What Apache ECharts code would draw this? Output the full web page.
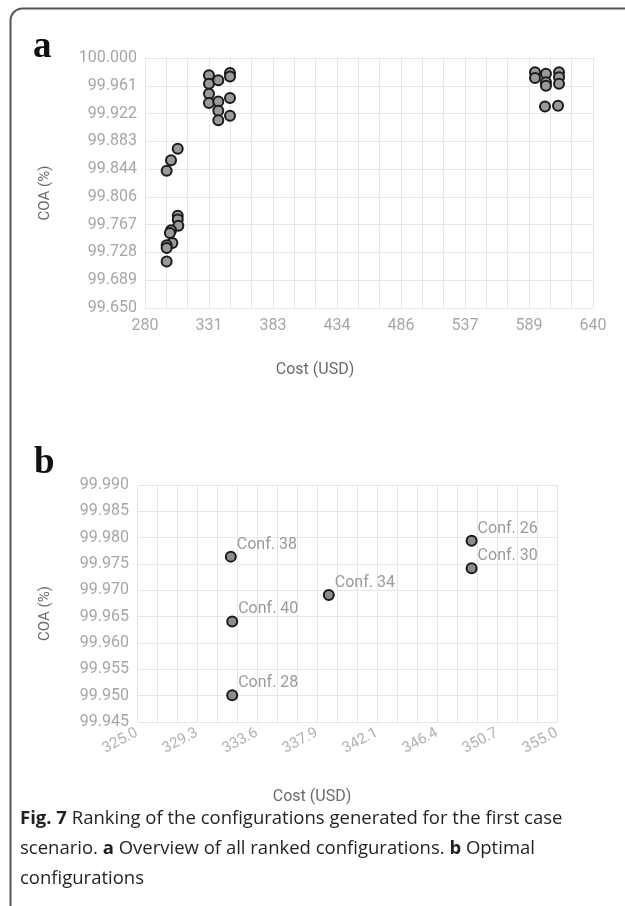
<!DOCTYPE html>
<html>
<head>
<meta charset="utf-8">
<script src="https://cdn.jsdelivr.net/npm/echarts@6/dist/echarts.min.js"></script>
<style>
html,body{margin:0;padding:0;background:#fff;}
#main{width:625px;height:906px;}
</style>
</head>
<body>
<div id="main"></div>
<script>
// panel a : all ranked configurations
var allCost = [306.3, 300.9, 297.4, 306.3, 306.3, 306.8, 300.9, 300.0, 302.0, 297.4, 297.4, 297.4,
  331.4, 331.4, 331.4, 331.4, 338.9, 338.9, 338.9, 338.9, 348.3, 348.3, 348.3, 348.3,
  593.4, 593.4, 602.2, 602.2, 602.2, 612.7, 612.7, 612.7, 601.4, 611.9];
var allCoa = [99.873, 99.857, 99.842, 99.779, 99.774, 99.765, 99.759, 99.755, 99.741, 99.738, 99.734, 99.715,
  99.976, 99.964, 99.950, 99.937, 99.969, 99.939, 99.926, 99.913, 99.979, 99.974, 99.944, 99.919,
  99.980, 99.972, 99.978, 99.966, 99.961, 99.980, 99.973, 99.964, 99.932, 99.933];

// panel b : optimal configurations
var optName = ['Conf. 38', 'Conf. 40', 'Conf. 34', 'Conf. 26', 'Conf. 30', 'Conf. 28'];
var optCost = [331.7, 331.8, 338.7, 348.9, 348.9, 331.8];
var optCoa = [99.9764, 99.9641, 99.9691, 99.9794, 99.9742, 99.9501];

// tick values
var aCostTicks = [280, 331.429, 382.857, 434.286, 485.714, 537.143, 588.571, 640];
var aCoaTicks = [99.65, 99.68889, 99.72778, 99.76667, 99.80556, 99.84444, 99.88333, 99.92222, 99.96111, 100];
var bCostTicks = [325, 329.286, 333.571, 337.857, 342.143, 346.429, 350.714, 355];
var bCoaTicks = [99.945, 99.95, 99.955, 99.96, 99.965, 99.97, 99.975, 99.98, 99.985, 99.99];

// majors + 2 lignes intermediaires
function withMinor(t) {
  var out = [];
  for (var i = 0; i < t.length; i++) {
    out.push(t[i]);
    if (i < t.length - 1) {
      var d = (t[i + 1] - t[i]) / 3;
      out.push(t[i] + d, t[i] + 2 * d);
    }
  }
  return out;
}

var gridCol = '#e6e6e6';
var labCol = '#a6a6a6';
var nameCol = '#6b6b6b';
var font = 'Roboto';

function xAx(idx, ticks, fmt, min, max, extra) {
  var ax = {
    type: 'value', gridIndex: idx, min: min, max: max,
    axisLine: {show: false},
    axisTick: {show: false, customValues: withMinor(ticks)},
    splitLine: {show: true, lineStyle: {color: gridCol, width: 1}},
    axisLabel: {customValues: ticks, formatter: fmt, color: labCol, fontFamily: font, fontSize: 16},
    name: 'Cost (USD)', nameLocation: 'middle',
    nameTextStyle: {color: nameCol, fontFamily: font, fontSize: 16}
  };
  for (var k in extra) ax[k] = extra[k];
  return ax;
}

function yAx(idx, ticks, min, max, gap) {
  return {
    type: 'value', gridIndex: idx, min: min, max: max,
    axisLine: {show: false},
    axisTick: {show: false, customValues: ticks},
    splitLine: {show: true, lineStyle: {color: gridCol, width: 1}},
    axisLabel: {customValues: ticks, margin: 8, color: labCol, fontFamily: font, fontSize: 16,
      formatter: function (v) { return v.toFixed(3); }},
    name: 'COA (%)', nameLocation: 'middle', nameGap: gap,
    nameTextStyle: {color: nameCol, fontFamily: font, fontSize: 15, padding: [0, 20, 0, 0]}
  };
}

var chart = echarts.init(document.getElementById('main'), null, {renderer: 'canvas'});

var option = {
  backgroundColor: '#fff',
  animation: false,
  title: {
    left: 15, top: 799,
    text: '{b|Fig. 7} Ranking of the configurations generated for the first case\n' +
      'scenario. {b|a} Overview of all ranked configurations. {b|b} Optimal\n' +
      'configurations',
    textStyle: {
      color: '#231f20', fontFamily: 'Open Sans', fontSize: 18.5, fontWeight: 'normal', lineHeight: 30,
      rich: {b: {fontFamily: 'Open Sans', fontSize: 18.5, fontWeight: 'bold', color: '#231f20', lineHeight: 30}}
    }
  },
  graphic: [
    {type: 'rect', left: 8, top: 6, silent: true,
      shape: {width: 700, height: 1000, r: 12},
      style: {fill: 'none', stroke: '#555', lineWidth: 2}},
    {type: 'text', x: 33, y: 47, silent: true,
      style: {text: 'a', font: 'bold 37px "Liberation Serif"', fill: '#111', verticalAlign: 'middle'}},
    {type: 'text', x: 34, y: 463, silent: true,
      style: {text: 'b', font: 'bold 37px "Liberation Serif"', fill: '#111', verticalAlign: 'middle'}}
  ],
  grid: [
    {left: 145, top: 58, width: 448, height: 250, outerBoundsMode: 'none'},
    {left: 137, top: 485, width: 420, height: 237, outerBoundsMode: 'none'}
  ],
  xAxis: [
    xAx(0, aCostTicks, function (v) { return String(Math.round(v)); }, 280, 640,
      {nameGap: 54}),
    xAx(1, bCostTicks, function (v) { return v.toFixed(1); }, 325, 355,
      {nameGap: 67})
  ],
  yAxis: [
    yAx(0, aCoaTicks, 99.65, 100, 92),
    yAx(1, bCoaTicks, 99.945, 99.99, 84)
  ],
  series: [
    {
      type: 'scatter', xAxisIndex: 0, yAxisIndex: 0, symbolSize: 10,
      itemStyle: {color: '#9a9a9a', borderColor: '#1a1a1a', borderWidth: 2, opacity: 1},
      emphasis: {disabled: true},
      data: allCost.map(function (c, i) { return [c, allCoa[i]]; })
    },
    {
      type: 'scatter', xAxisIndex: 1, yAxisIndex: 1, symbolSize: 10,
      itemStyle: {color: '#8c8c8c', borderColor: '#1a1a1a', borderWidth: 2, opacity: 1},
      emphasis: {disabled: true},
      label: {show: true, formatter: '{b}', position: [12, -6], align: 'left', verticalAlign: 'middle',
        color: '#9a9a9a', fontFamily: font, fontSize: 16},
      data: optCost.map(function (c, i) { return {name: optName[i], value: [c, optCoa[i]]}; })
    }
  ]
};

// labels inclines du panneau b
var lb = option.xAxis[1].axisLabel;
lb.rotate = 28;
lb.margin = 10;
lb.fontSize = 15;
lb.color = '#b0b0b0';
option.xAxis[0].axisLabel.margin = 10;
option.xAxis[0].nameTextStyle.padding = [0, 108, 0, 0];
option.xAxis[1].nameTextStyle.padding = [0, 70, 0, 0];

chart.setOption(option);
</script>
</body>
</html>
